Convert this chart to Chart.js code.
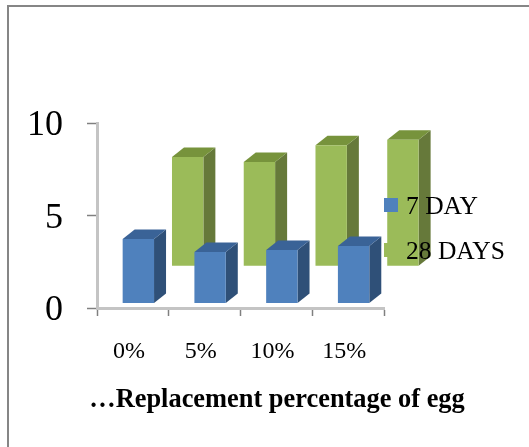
<!DOCTYPE html>
<html>
<head>
<meta charset="utf-8">
<style>
  html, body { margin: 0; padding: 0; background: #fff; overflow: hidden; }
  canvas { display: block; filter: blur(0.4px); }
</style>
<script src="https://cdn.jsdelivr.net/npm/chart.js@4"></script>
</head>
<body>
<canvas id="ctx-strength" width="529" height="447"></canvas>
<script>
const categories = ['0%', '5%', '10%', '15%'];
const yTicks = [0, 5, 10];
const seriesNames = ['7 DAY', '28 DAYS'];
const day7 = [3.73, 3.03, 3.14, 3.35];
const day28 = [8.16, 7.89, 8.8, 9.1];
// the bars float off the floor in the original picture
const day7Floor = 0.27;
const day28Floor = 2.28;
const xTitle = '…Replacement percentage of egg';

const SERIF = '"Liberation Serif", serif';
const faces = [
    { front: '#4f81bd', side: '#2f5078', top: '#3a6397' },
    { front: '#9bbb59', side: '#66793a', top: '#77933c' }
];
const DEPTH_X = 12;
const DEPTH_Y = 9.5;

const poly = (ctx, pts, color) => {
    ctx.fillStyle = color;
    ctx.beginPath();
    pts.forEach((p, i) => i ? ctx.lineTo(p[0], p[1]) : ctx.moveTo(p[0], p[1]));
    ctx.closePath();
    ctx.fill();
};

const extrude = {
    id: 'extrude',
    beforeDatasetDraw(chart, args) {
        const ctx = chart.ctx;
        const c = faces[args.index];
        chart.getDatasetMeta(args.index).data.forEach((bar) => {
            const l = bar.x - bar.width / 2;
            const r = bar.x + bar.width / 2;
            poly(ctx, [[r, bar.y], [r + DEPTH_X, bar.y - DEPTH_Y], [r + DEPTH_X, bar.base - DEPTH_Y], [r, bar.base]], c.side);
            poly(ctx, [[l, bar.y], [l + DEPTH_X, bar.y - DEPTH_Y], [r + DEPTH_X, bar.y - DEPTH_Y], [r, bar.y]], c.top);
        });
    }
};

const frame = {
    id: 'frame',
    beforeDraw(chart) {
        const ctx = chart.ctx;
        ctx.fillStyle = '#fff';
        ctx.fillRect(0, 0, 529, 447);
        // only the left and top edges of the box are in the crop
        ctx.fillStyle = '#868686';
        ctx.fillRect(7, 5, 522, 2);
        ctx.fillRect(7, 5, 2, 442);
    },
    afterDraw(chart) {
        const ctx = chart.ctx;
        ctx.textBaseline = 'middle';
        ctx.textAlign = 'left';
        ctx.font = '25.5px ' + SERIF;
        chart.data.datasets.forEach((d, i) => {
            const y = 205 + i * 45;
            ctx.fillStyle = d.backgroundColor;
            ctx.fillRect(384, y - 7, 14, 14);
            ctx.fillStyle = '#000';
            ctx.fillText(d.label, 406, y + 2);
        });
        ctx.textAlign = 'center';
        ctx.font = 'bold 26.4px ' + SERIF;
        ctx.fillText(xTitle, 277, 400);
    }
};

new Chart(document.getElementById('ctx-strength'), {
    type: 'bar',
    data: {
        labels: categories,
        datasets: [
            {
                label: seriesNames[0],
                data: day7.map((v, i) => ({ x: i, y: [day7Floor, v] })),
                backgroundColor: faces[0].front,
                xAxisID: 'xBars',
                clip: false
            },
            {
                label: seriesNames[1],
                data: day28.map((v, i) => ({ x: i, y: [day28Floor, v] })),
                backgroundColor: faces[1].front,
                xAxisID: 'xBars',
                clip: false
            }
        ]
    },
    options: {
        responsive: false,
        animation: false,
        categoryPercentage: 1.375,
        barPercentage: 0.636,
        layout: { padding: { top: 123, right: 145, left: 0, bottom: 0 } },
        plugins: {
            legend: { display: false },
            tooltip: { enabled: false }
        },
        scales: {
            x: {
                type: 'category',
                afterFit: (scale) => { scale.height = 139; },
                border: { color: '#c4c4c4', width: 3 },
                grid: { drawOnChartArea: false, tickLength: 8, tickColor: '#808080', tickWidth: 1.5 },
                ticks: {
                    color: '#000',
                    font: { family: SERIF, size: 24 },
                    padding: 21,
                    labelOffset: -4,
                    maxRotation: 0
                }
            },
            xBars: {
                type: 'linear',
                axis: 'x',
                display: false,
                offset: false,
                bounds: 'data',
                min: -0.92,
                max: 3.08,
                ticks: { stepSize: 1, includeBounds: false }
            },
            y: {
                min: 0,
                max: 10,
                afterFit: (scale) => { scale.width = 97; },
                afterBuildTicks: (scale) => { scale.ticks = yTicks.map((v) => ({ value: v })); },
                border: { color: '#c4c4c4', width: 3 },
                grid: { drawOnChartArea: false, tickLength: 10, tickColor: '#808080', tickWidth: 1.5 },
                ticks: {
                    color: '#000',
                    font: { family: SERIF, size: 36 },
                    padding: 24,
                    labelOffset: 3
                }
            }
        }
    },
    plugins: [extrude, frame]
});
</script>
</body>
</html>
